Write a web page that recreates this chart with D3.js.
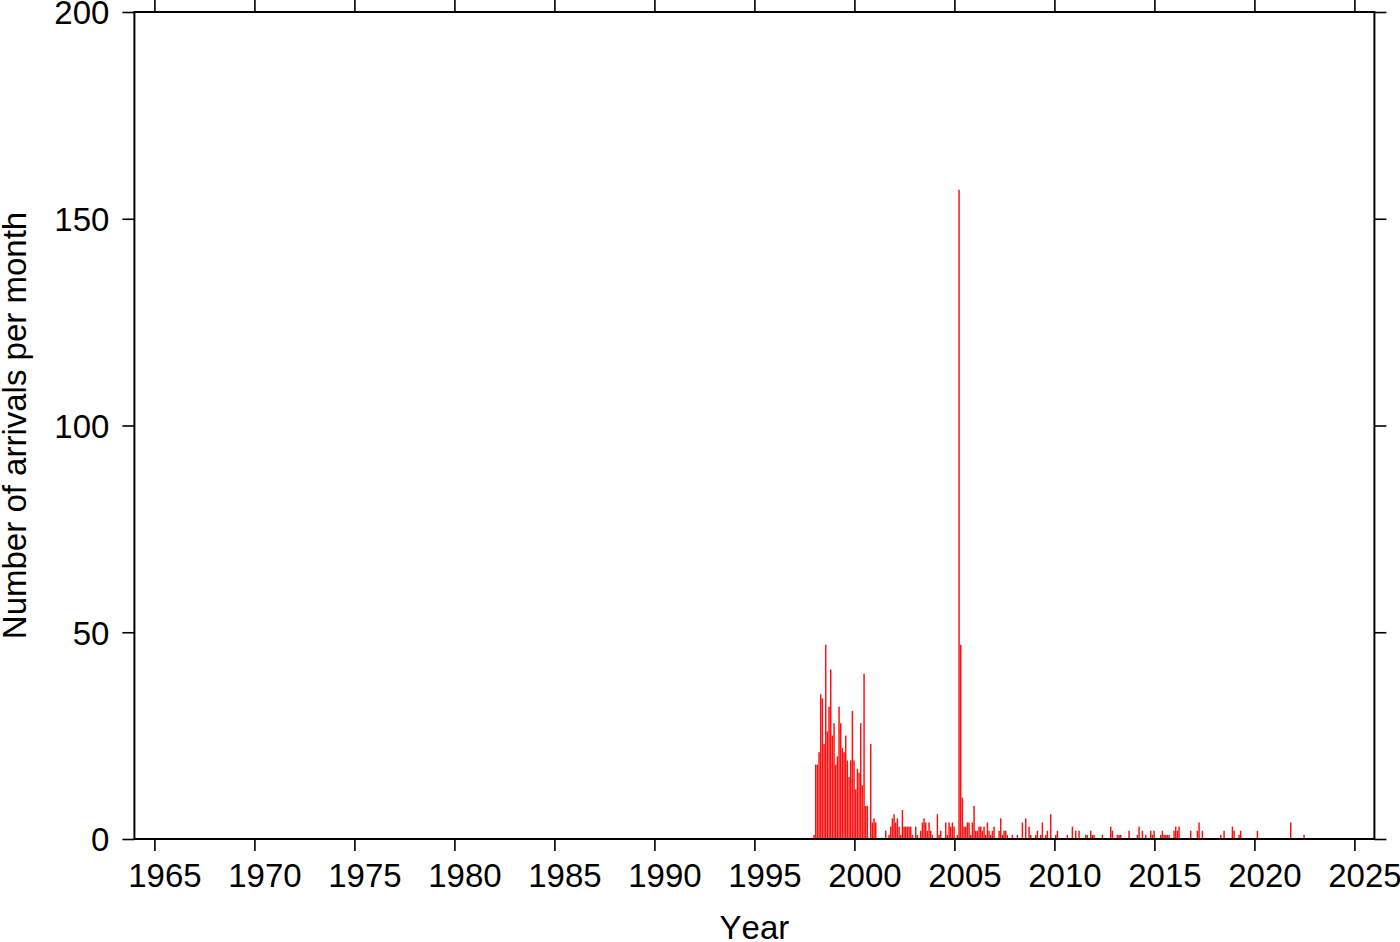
<!DOCTYPE html>
<html>
<head>
<meta charset="utf-8">
<script src="https://cdn.jsdelivr.net/npm/d3@7"></script>
<style>
  html, body { margin: 0; padding: 0; background: #fff; }
  svg { display: block; }
  text { font-family: "Liberation Sans", Arial, Helvetica, sans-serif; fill: #000; font-kerning: none; }
</style>
</head>
<body>
<svg id="chart" width="1400" height="942"></svg>
<script>
// Months (YYYY-MM) with arrivals, and the number of arrivals in each month
const months = [
  "1997-12",
  "1998-01","1998-02","1998-03","1998-04","1998-05","1998-06","1998-07","1998-08","1998-09","1998-10","1998-11","1998-12",
  "1999-01","1999-02","1999-03","1999-04","1999-05","1999-06","1999-07","1999-08","1999-09","1999-10","1999-11","1999-12",
  "2000-01","2000-02","2000-03","2000-04","2000-05","2000-06","2000-07","2000-08","2000-10","2000-11","2000-12",
  "2001-01","2001-07","2001-09","2001-10","2001-11","2001-12",
  "2002-01","2002-02","2002-03","2002-04","2002-05","2002-06","2002-07","2002-08","2002-09","2002-10","2002-11",
  "2003-01","2003-02","2003-04","2003-05","2003-06","2003-07","2003-08","2003-09","2003-10","2003-11",
  "2004-02","2004-03","2004-04","2004-07","2004-08","2004-09","2004-10","2004-11","2004-12",
  "2005-02","2005-03","2005-04","2005-05","2005-06","2005-07","2005-08","2005-09","2005-10","2005-11","2005-12",
  "2006-01","2006-02","2006-03","2006-04","2006-05","2006-06","2006-07","2006-08","2006-09","2006-10","2006-11","2006-12",
  "2007-03","2007-04","2007-05","2007-06","2007-07","2007-08","2007-11",
  "2008-02","2008-05","2008-07","2008-09","2008-10",
  "2009-01","2009-02","2009-04","2009-05","2009-07","2009-08","2009-10",
  "2010-01","2010-02","2010-08","2010-11",
  "2011-01","2011-03","2011-07","2011-08","2011-10","2011-11","2011-12",
  "2012-05","2012-10","2012-11",
  "2013-02","2013-03","2013-04","2013-09",
  "2014-02","2014-03","2014-05","2014-07","2014-10","2014-11","2014-12",
  "2015-04","2015-05","2015-06","2015-07","2015-08","2015-09","2015-12",
  "2016-01","2016-02","2016-03","2016-10",
  "2017-02","2017-03","2017-05",
  "2018-04","2018-06","2018-11","2018-12",
  "2019-03","2019-04",
  "2020-02",
  "2021-10",
  "2022-06"
];
const counts = [
  1,
  18,18,21,35,34,23,47,26,32,41,25,28,
  18,20,32,28,22,21,25,19,15,19,31,19,
  12,17,16,28,13,40,8,8,23,4,5,
  4,2,1,3,5,6,
  4,5,3,1,7,3,3,3,3,3,1,
  3,1,2,4,5,4,2,4,2,1,
  6,1,2,4,1,4,3,4,3,
  1,157,47,10,3,3,4,4,1,4,8,
  2,2,3,3,2,3,1,4,2,1,2,3,
  2,5,1,2,2,1,1,
  1,4,5,3,1,
  1,2,1,4,1,2,6,
  1,2,1,3,
  2,2,1,1,2,1,1,
  1,3,2,
  1,1,1,2,
  1,3,2,1,2,1,2,
  1,2,1,1,1,1,2,
  3,2,3,2,
  2,4,2,
  1,2,3,2,
  1,2,
  2,
  4,
  1
];
const xTicks = [1965,1970,1975,1980,1985,1990,1995,2000,2005,2010,2015,2020,2025];
const yTicks = [0,50,100,150,200];
const xTitle = "Year";
const yTitle = "Number of arrivals per month";

(function () {
  const svg = d3.select("#chart");
  const mLeft = 134.4, mRight = 1374.4, mTop = 12, mBottom = 839;
  const x = d3.scaleLinear().domain([1964, 2026]).range([mLeft, mRight]);
  const y = d3.scaleLinear().domain([0, 200]).range([mBottom, mTop]);

  const data = months.map((m, i) => {
    const [yr, mo] = m.split("-").map(Number);
    return { t0: yr + (mo - 1) / 12, t1: yr + mo / 12, v: counts[i] };
  });

  // bars (one per month)
  svg.append("g").selectAll("rect").data(data).join("rect")
    .attr("x", d => x(d.t0) + 0.6)
    .attr("width", d => Math.max(0.5, (x(d.t1) - x(d.t0)) * 0.88))
    .attr("y", d => y(d.v))
    .attr("height", d => y(0) - y(d.v))
    .attr("fill", "#ff1010");

  const fontSize = 33;
  const tickLen = 12;
  const halfYear = x(1965.5) - x(1965);

  const xb = svg.append("g").attr("transform", `translate(0,${mBottom})`)
    .call(d3.axisBottom(x).tickValues(xTicks).tickFormat(d3.format("d")).tickSize(tickLen));
  const xt = svg.append("g").attr("transform", `translate(0,${mTop})`)
    .call(d3.axisTop(x).tickValues(xTicks).tickFormat("").tickSize(tickLen));
  const yl = svg.append("g").attr("transform", `translate(${mLeft},0)`)
    .call(d3.axisLeft(y).tickValues(yTicks).tickSize(tickLen).tickPadding(13));
  const yr = svg.append("g").attr("transform", `translate(${mRight},0)`)
    .call(d3.axisRight(y).tickValues(yTicks).tickFormat("").tickSize(tickLen));

  [xb, xt, yl, yr].forEach(g => {
    g.select(".domain").remove();
    g.selectAll(".tick line").attr("stroke", "#000").attr("stroke-width", 1.6);
    g.selectAll(".tick text").attr("font-size", fontSize)
      .attr("font-family", "'Liberation Sans', Arial, sans-serif").attr("fill", "#000");
  });
  yl.selectAll(".tick text").attr("dy", "0.36em");
  // year labels sit in the middle of each labelled year
  xb.selectAll(".tick text").attr("x", halfYear).attr("y", 48).attr("dy", 0);

  svg.append("rect")
    .attr("x", mLeft).attr("y", mTop)
    .attr("width", mRight - mLeft).attr("height", mBottom - mTop)
    .attr("fill", "none").attr("stroke", "#000").attr("stroke-width", 2);

  svg.append("text")
    .attr("x", (mLeft + mRight) / 2).attr("y", 939)
    .attr("text-anchor", "middle").attr("font-size", fontSize)
    .text(xTitle);
  svg.append("text")
    .attr("transform", `translate(26,${(mTop + mBottom) / 2}) rotate(-90)`)
    .attr("text-anchor", "middle").attr("font-size", fontSize)
    .text(yTitle);
})();
</script>
</body>
</html>
